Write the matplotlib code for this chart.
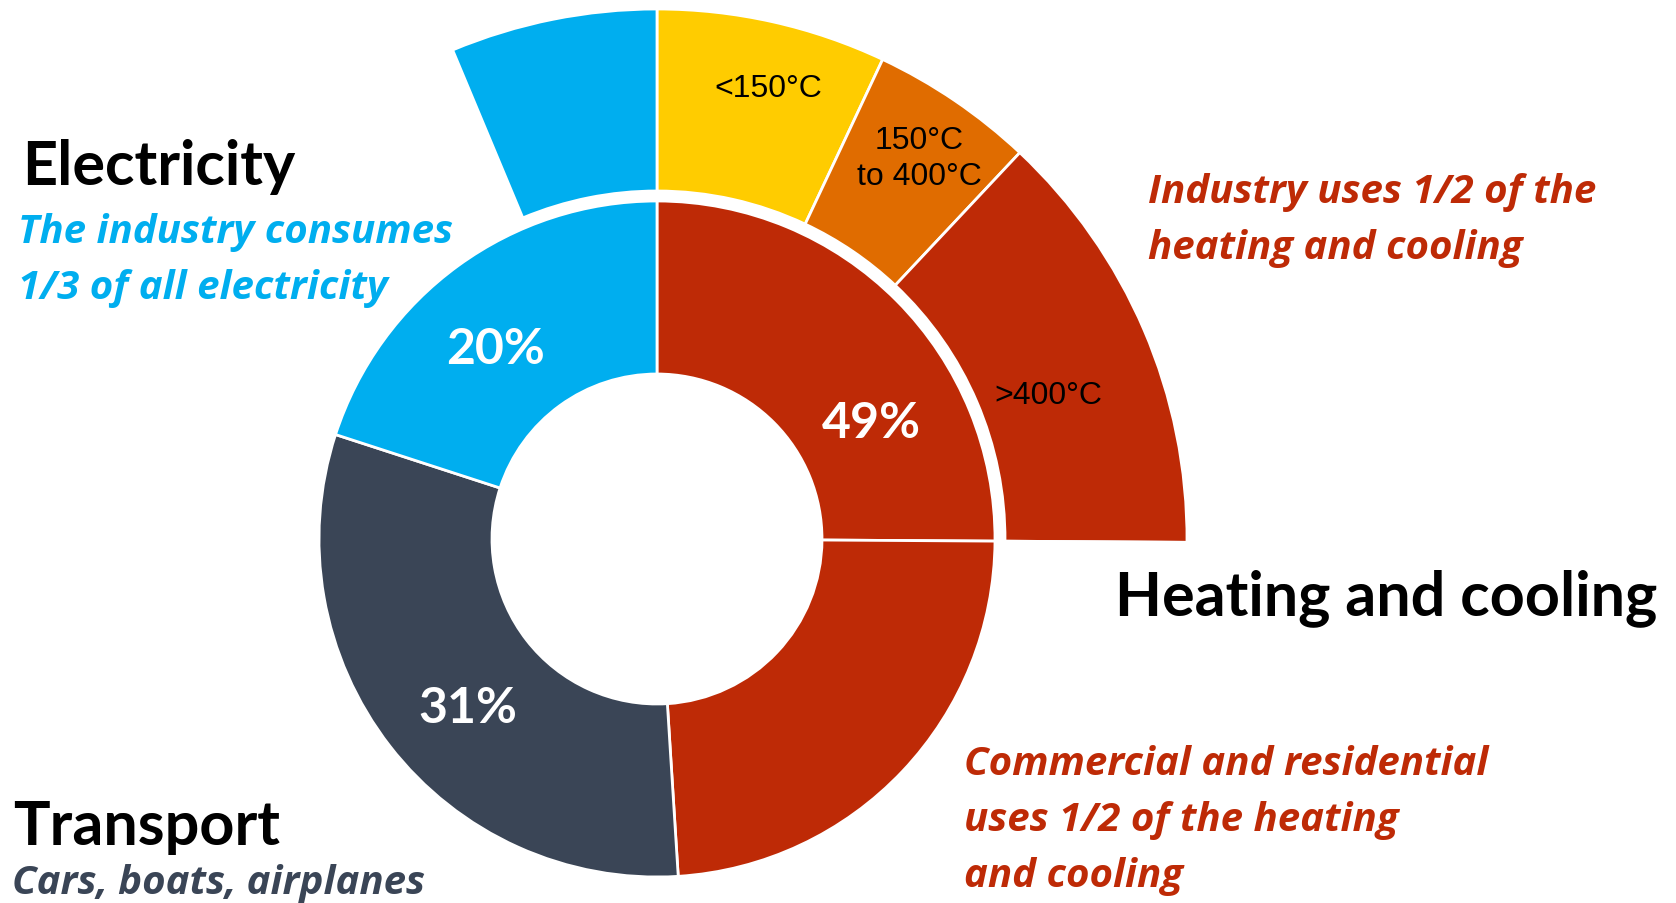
import matplotlib.pyplot as plt

# shares of final energy use (%)
inner_labels = ['Heating (industry)', 'Heating (commercial/residential)', 'Transport', 'Electricity']
inner_values = [25.1, 23.9, 31, 20]
inner_colors = ['#BE2A06', '#BE2A06', '#3A4556', '#00AEEF']

outer_labels = ['<150°C', '150°C\nto 400°C', '>400°C', '', 'Electricity (industry)']
outer_values = [7, 5, 13.1, 68.6, 6.3]
outer_colors = ['#FFCC00', '#E06C00', '#BE2A06', 'none', '#00AEEF']

pct_labels = ['49%', '31%', '20%']

plt.rcParams['font.family'] = ['Lato', 'DejaVu Sans']

fig = plt.figure(figsize=(16.76, 9.04), dpi=100)
ax = fig.add_axes([0, 0, 1, 1])

cx, cy = 657, 904 - 540
ax.pie(inner_values, colors=inner_colors, startangle=90, counterclock=False,
       center=(cx, cy), radius=338,
       wedgeprops=dict(width=338 - 165, edgecolor='white', linewidth=2))
ax.pie(outer_values, colors=outer_colors, startangle=90, counterclock=False,
       center=(cx, cy), radius=530,
       wedgeprops=dict(width=530 - 348, edgecolor='white', linewidth=2))

ax.set_xlim(0, 1676)
ax.set_ylim(0, 904)
ax.set_aspect('equal')
ax.axis('off')

def Y(y):
    return 904 - y

# percentages inside the donut
ax.text(871, Y(424), pct_labels[0], color='white', fontsize=36, fontweight='bold', ha='center', va='center')
ax.text(468, Y(709), pct_labels[1], color='white', fontsize=36, fontweight='bold', ha='center', va='center')
ax.text(495, Y(350), pct_labels[2], color='white', fontsize=36, fontweight='bold', ha='center', va='center')

# temperature bands
arial = ['Liberation Sans', 'DejaVu Sans']
ax.text(768, Y(89), outer_labels[0], fontsize=23, family=arial, ha='center', va='center')
ax.text(919, Y(159), outer_labels[1], fontsize=23, family=arial, ha='center', va='center', linespacing=1.3)
ax.text(1048, Y(396), outer_labels[2], fontsize=23, family=arial, ha='center', va='center')

red = '#BE2A06'
note = dict(fontsize=29, fontweight='bold', style='italic', va='baseline',
            family=['Open Sans', 'DejaVu Sans'])

# headings and notes
ax.text(22, Y(185), 'Electricity', fontsize=44, fontweight='bold', va='baseline')
ax.text(18, Y(243), 'The industry consumes', color='#00AEEF', **note)
ax.text(18, Y(299), '1/3 of all electricity', color='#00AEEF', **note)

ax.text(13, Y(845), 'Transport', fontsize=44, fontweight='bold', va='baseline')
ax.text(12, Y(894), 'Cars, boats, airplanes', color='#3A4556', **note)

ax.text(1115, Y(615), 'Heating and cooling', fontsize=44, fontweight='bold', va='baseline')

ax.text(1148, Y(203), 'Industry uses 1/2 of the', color=red, **note)
ax.text(1148, Y(259), 'heating and cooling', color=red, **note)

ax.text(964, Y(775), 'Commercial and residential', color=red, **note)
ax.text(964, Y(831), 'uses 1/2 of the heating', color=red, **note)
ax.text(964, Y(887), 'and cooling', color=red, **note)

fig.savefig('out.png', dpi=100)
